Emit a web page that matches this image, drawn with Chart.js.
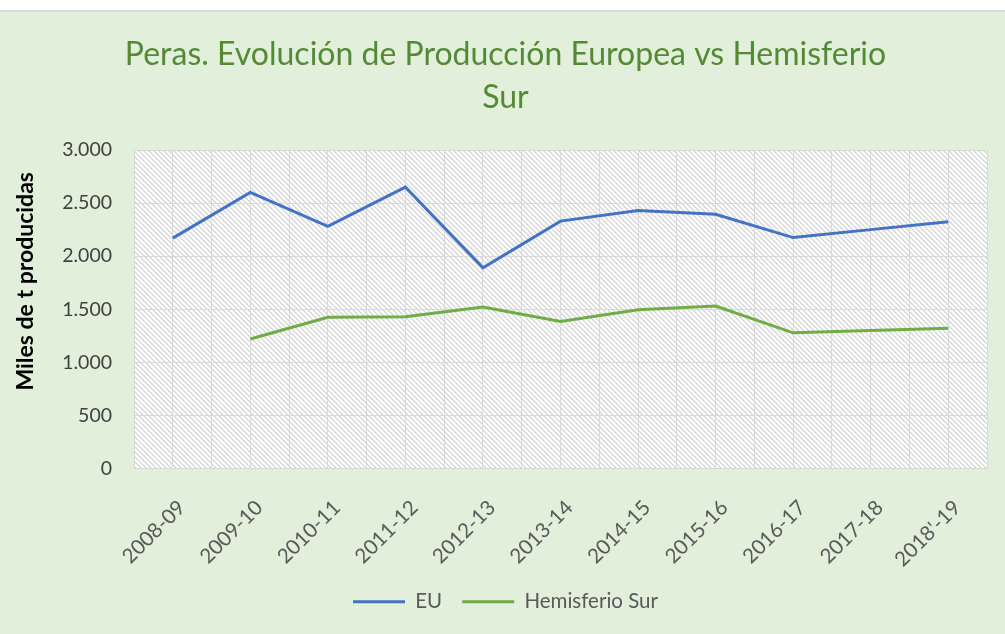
<!DOCTYPE html>
<html>
<head>
<meta charset="utf-8">
<script src="https://cdn.jsdelivr.net/npm/chart.js@4.4.1/dist/chart.umd.min.js"></script>
<style>
  html, body { margin: 0; padding: 0; background: #ffffff; }
  #wrap {
    position: absolute; left: 0; top: 10px;
    width: 1005px; height: 622px;
    background: #e2efda;
    border-top: 2px solid #d9d9d9;
  }
</style>
</head>
<body>
<div id="wrap"><canvas id="chart"></canvas></div>
<script>
// temporadas
const categories = ["2008-09", "2009-10", "2010-11", "2011-12", "2012-13", "2013-14",
  "2014-15", "2015-16", "2016-17", "2017-18", "2018'-19"];
// miles de t
const euValues = [2170, 2600, 2280, 2650, 1890, 2330, 2430, 2395, 2175, 2250, 2325];
const surValues = [null, 1220, 1425, 1430, 1520, 1385, 1495, 1530, 1278, 1300, 1320];
const yTicks = [0, 500, 1000, 1500, 2000, 2500, 3000];

function formatMiles(v) {
  return String(v).replace(/\B(?=(\d{3})+(?!\d))/g, ".");
}

// trama de rayas diagonales del área de trazado
function makeHatch(ctx) {
  const s = 5;
  const c = document.createElement("canvas");
  c.width = s; c.height = s;
  const g = c.getContext("2d");
  g.fillStyle = "#ffffff";
  g.fillRect(0, 0, s, s);
  g.strokeStyle = "#cfcfcf";
  g.lineWidth = 1.2;
  g.beginPath();
  g.moveTo(-1, -1); g.lineTo(s + 1, s + 1);
  g.moveTo(-1, s - 1); g.lineTo(1, s + 1);
  g.moveTo(s - 1, -1); g.lineTo(s + 1, 1);
  g.stroke();
  return ctx.createPattern(c, "repeat");
}

const plotBg = {
  id: "plotBg",
  beforeDraw(chart) {
    const { ctx, chartArea } = chart;
    if (!chart._hatch) chart._hatch = makeHatch(ctx);
    ctx.save();
    ctx.fillStyle = chart._hatch;
    ctx.fillRect(chartArea.left, chartArea.top, chartArea.right - chartArea.left, chartArea.bottom - chartArea.top);
    ctx.restore();
  }
};

const ctx = document.getElementById("chart").getContext("2d");
new Chart(ctx, {
  type: "line",
  data: {
    datasets: [
      {
        label: "EU",
        data: euValues.map((v, i) => ({ x: i, y: v })),
        borderColor: "#4472c4",
        backgroundColor: "#4472c4",
        borderWidth: 3,
        pointRadius: 0,
        tension: 0
      },
      {
        label: "Hemisferio Sur",
        data: surValues.map((v, i) => ({ x: i, y: v })),
        borderColor: "#70ad47",
        backgroundColor: "#70ad47",
        borderWidth: 3,
        pointRadius: 0,
        tension: 0
      }
    ]
  },
  options: {
    responsive: true,
    maintainAspectRatio: false,
    animation: false,
    layout: { padding: { left: 12, right: 6, top: 0, bottom: 12 } },
    plugins: {
      tooltip: { enabled: false },
      title: {
        display: true,
        text: ["Peras. Evolución de Producción Europea vs Hemisferio", "Sur"],
        color: "#548a36",
        font: { family: "Lato, sans-serif", size: 32, weight: "normal", lineHeight: 43 / 32 },
        padding: { top: 21, bottom: 31 }
      },
      legend: {
        position: "bottom",
        labels: {
          usePointStyle: true,
          pointStyle: "line",
          pointStyleWidth: 52,
          color: "#595959",
          font: { family: "Lato, sans-serif", size: 20.5 },
          padding: 20
        }
      }
    },
    scales: {
      x: {
        type: "linear",
        min: -0.5,
        max: 10.5,
        afterFit(scale) {
          scale.height = 103;
          scale.paddingLeft = 0;
          scale.paddingRight = 0;
        },
        grid: { color: "#d9d9d9", lineWidth: 1, drawTicks: false },
        border: { display: false },
        ticks: {
          stepSize: 0.5,
          autoSkip: false,
          minRotation: 45,
          maxRotation: 45,
          labelOffset: 9,
          padding: 27,
          color: "#595959",
          font: { family: "Lato, sans-serif", size: 20.5 },
          callback: (v) => Number.isInteger(v) ? categories[v] : ""
        }
      },
      y: {
        min: 0,
        max: 3000,
        afterFit(scale) { scale.width = 122; },
        afterBuildTicks(scale) { scale.ticks = yTicks.map(v => ({ value: v })); },
        grid: { color: "#d9d9d9", lineWidth: 1, drawTicks: false },
        border: { display: false },
        ticks: {
          padding: 22,
          color: "#404040",
          font: { family: "Lato, sans-serif", size: 19.5 },
          callback: (v) => formatMiles(v)
        },
        title: {
          display: true,
          // espacios iniciales: el texto queda algo por encima del centro, como en el original
          text: "\u00a0".repeat(10) + "Miles de t producidas",
          color: "#000000",
          font: { family: "Lato, sans-serif", size: 23, weight: "bold" },
          padding: { top: 0, bottom: 0 }
        }
      },
      // margen derecho del área de trazado (título y leyenda quedan centrados en el lienzo)
      yRight: {
        position: "right",
        display: true,
        afterFit(scale) { scale.width = 12; },
        grid: { display: false, drawTicks: false },
        border: { display: false },
        ticks: { display: false }
      }
    }
  },
  plugins: [plotBg]
});
</script>
</body>
</html>
